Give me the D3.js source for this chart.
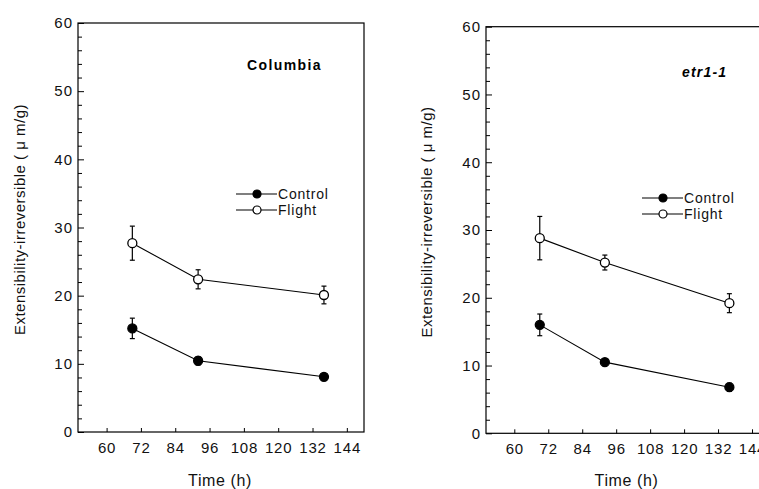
<!DOCTYPE html>
<html><head><meta charset="utf-8">
<script src="https://cdn.jsdelivr.net/npm/d3@7/dist/d3.min.js"></script>
<style>body{margin:0;background:#fff}svg{display:block;font-family:"Liberation Sans",Arial,sans-serif}</style>
</head><body><svg id="c" width="759" height="489"></svg>
<script>
const times = [69, 92, 136];
const xTicks = [60, 72, 84, 96, 108, 120, 132, 144];
const yTicks = [0, 10, 20, 30, 40, 50, 60];
const panelTitles = ["Columbia", "etr1-1"];
const seriesNames = ["Control", "Flight"];
const colControl = [15.2, 10.45, 8.1];
const colControlErr = [1.5, 0.6, 0.3];
const colFlight = [27.7, 22.4, 20.1];
const colFlightErr = [2.5, 1.4, 1.3];
const etrControl = [16.0, 10.5, 6.8];
const etrControlErr = [1.6, 0.5, 0.6];
const etrFlight = [28.8, 25.2, 19.2];
const etrFlightErr = [3.2, 1.1, 1.4];

const svg = d3.select("#c");
const panels = [
  {title: panelTitles[0], italic: false, left: 78, right: 364, top: 23, bottom: 432,
   titleX: 247, titleY: 70, legX: 236, legY: 194, labelX: 25,
   series: [{name: seriesNames[0], v: colControl, e: colControlErr, fill: "#000"},
            {name: seriesNames[1], v: colFlight, e: colFlightErr, fill: "#fff"}]},
  {title: panelTitles[1], italic: true, left: 486, right: 769, top: 26.7, bottom: 433.3,
   titleX: 682, titleY: 77, legX: 642, legY: 198, labelX: 432,
   series: [{name: seriesNames[0], v: etrControl, e: etrControlErr, fill: "#000"},
            {name: seriesNames[1], v: etrFlight, e: etrFlightErr, fill: "#fff"}]}
];

panels.forEach(p => {
  const g = svg.append("g");
  const x = d3.scaleLinear().domain([50, 150]).range([p.left, p.right]);
  const y = d3.scaleLinear().domain([0, 60]).range([p.bottom, p.top]);
  // frame
  g.append("rect").attr("x", p.left).attr("y", p.top)
    .attr("width", p.right - p.left).attr("height", p.bottom - p.top)
    .attr("fill", "none").attr("stroke", "#000").attr("stroke-width", 1.2);
  // y axis with minor ticks (inward)
  const yMinor = d3.range(0, 61, 2).filter(v => v % 10 !== 0);
  g.append("g").attr("transform", `translate(${p.left},0)`)
    .call(d3.axisRight(y).tickValues(yMinor).tickSize(4).tickFormat(""))
    .call(a => a.select(".domain").remove())
    .selectAll("line").attr("stroke", "#000");
  const ya = g.append("g").attr("transform", `translate(${p.left},0)`)
    .call(d3.axisLeft(y).tickValues(yTicks).tickSize(-6).tickPadding(5));
  ya.select(".domain").remove();
  ya.selectAll("line").attr("stroke", "#000");
  ya.selectAll("text").attr("font-size", 15).attr("fill", "#111")
    .attr("font-family", "Liberation Sans, Arial, sans-serif").attr("letter-spacing", 1);
  // x axis inward ticks
  const xa = g.append("g").attr("transform", `translate(0,${p.bottom})`)
    .call(d3.axisBottom(x).tickValues(xTicks).tickSize(-4).tickPadding(10));
  xa.select(".domain").remove();
  xa.selectAll("line").attr("stroke", "#000");
  xa.selectAll("text").attr("font-size", 15).attr("fill", "#111")
    .attr("font-family", "Liberation Sans, Arial, sans-serif").attr("letter-spacing", 0.8);
  // axis titles
  g.append("text").attr("x", x(100) - 1).attr("y", 486).attr("text-anchor", "middle")
    .attr("font-size", 16).attr("letter-spacing", 0.6).attr("fill", "#111").text("Time (h)");
  g.append("text").attr("transform", `translate(${p.labelX},${(p.top + p.bottom) / 2 - 8}) rotate(-90)`)
    .attr("text-anchor", "middle").attr("font-size", 15).attr("letter-spacing", 0.5).attr("fill", "#111")
    .text("Extensibility-irreversible ( μ m/g)");
  // panel title
  g.append("text").attr("x", p.titleX).attr("y", p.titleY).attr("font-size", 14)
    .attr("font-weight", "bold").attr("font-style", p.italic ? "italic" : "normal")
    .attr("letter-spacing", p.italic ? 1.2 : 1.4).attr("fill", "#000").text(p.title);
  // series
  const line = d3.line().x((d, i) => x(times[i])).y(d => y(d));
  p.series.forEach(s => {
    g.append("path").attr("d", line(s.v)).attr("fill", "none").attr("stroke", "#000").attr("stroke-width", 1.1);
    s.v.forEach((v, i) => {
      const cx = x(times[i]);
      g.append("line").attr("x1", cx).attr("x2", cx).attr("y1", y(v - s.e[i])).attr("y2", y(v + s.e[i]))
        .attr("stroke", "#000").attr("stroke-width", 1.2);
      [v - s.e[i], v + s.e[i]].forEach(ev => g.append("line").attr("x1", cx - 2.5).attr("x2", cx + 2.5)
        .attr("y1", y(ev)).attr("y2", y(ev)).attr("stroke", "#000").attr("stroke-width", 1.2));
    });
    s.v.forEach((v, i) => {
      g.append("circle").attr("cx", x(times[i])).attr("cy", y(v)).attr("r", 4.5)
        .attr("fill", s.fill).attr("stroke", "#000").attr("stroke-width", 1.3);
    });
  });
  // legend
  p.series.forEach((s, k) => {
    const ly = p.legY + k * 16;
    g.append("line").attr("x1", p.legX).attr("x2", p.legX + 41).attr("y1", ly).attr("y2", ly)
      .attr("stroke", "#000").attr("stroke-width", 1.1);
    g.append("circle").attr("cx", p.legX + 21).attr("cy", ly).attr("r", 4)
      .attr("fill", s.fill).attr("stroke", "#000").attr("stroke-width", 1.2);
    g.append("text").attr("x", p.legX + 42).attr("y", ly + 5).attr("font-size", 14)
      .attr("letter-spacing", 0.8).attr("fill", "#111").text(s.name);
  });
});
</script></body></html>
